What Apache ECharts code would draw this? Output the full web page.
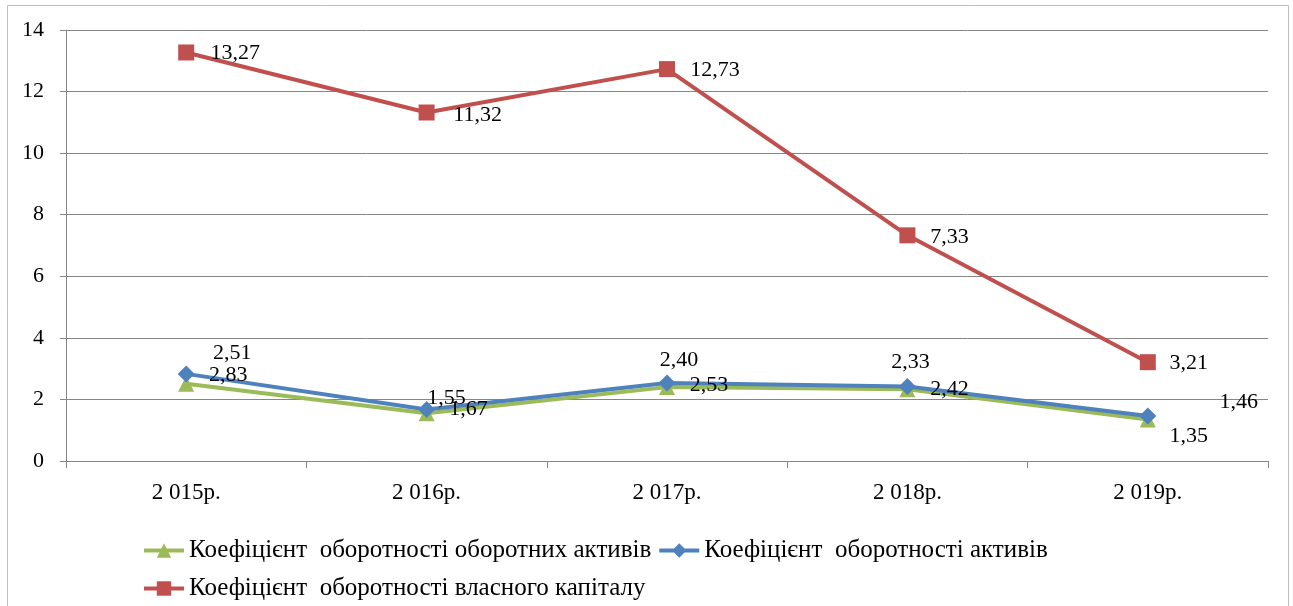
<!DOCTYPE html>
<html>
<head>
<meta charset="utf-8">
<script src="https://cdn.jsdelivr.net/npm/echarts@6/dist/echarts.min.js"></script>
<style>
html,body{margin:0;padding:0;background:#fff;}
#chart{width:1293px;height:606px;}
</style>
</head>
<body>
<div id="chart"></div>
<script>
var categories = ['2 015р.', '2 016р.', '2 017р.', '2 018р.', '2 019р.'];
var seriesNames = [
  'Коефіцієнт  оборотності оборотних активів',
  'Коефіцієнт  оборотності активів',
  'Коефіцієнт  оборотності власного капіталу'
];
var currentAssets = [2.51, 1.55, 2.40, 2.33, 1.35];
var totalAssets = [2.83, 1.67, 2.53, 2.42, 1.46];
var equity = [13.27, 11.32, 12.73, 7.33, 3.21];
var yTicks = [0, 2, 4, 6, 8, 10, 12, 14];

// label placement (offset of label centre from the point), layout only
var offGreen = [[46,-31],[20,-15],[12,-27],[3,-27],[41,17]];
var offBlue = [[42,1],[42,0],[42,2],[42,3],[91,-14]];
var offRed = [[49,1],[51,3],[48,1],[42,2],[41,1]];

var FONT = 'Liberation Serif';
function fmt(v){ return v.toFixed(2).replace('.', ','); }
function build(vals, offs){
  return vals.map(function(v,i){
    return {value: v, label: {offset: offs[i]}};
  });
}
function mkSeries(name, vals, offs, color, symbol, size){
  return {
    name: name, type: 'line', data: build(vals, offs),
    symbol: symbol, symbolSize: size,
    itemStyle: {color: color},
    lineStyle: {color: color, width: 4},
    label: {
      show: true, position: 'inside',
      formatter: function(p){ return fmt(p.value); },
      fontFamily: FONT, fontSize: 22, color: '#000'
    },
    emphasis: {disabled: true},
    animation: false
  };
}
var legendCommon = {
  itemWidth: 40, itemHeight: 18, itemGap: 6,
  lineStyle: {width: 4},
  textStyle: {fontFamily: FONT, fontSize: 25, color: '#000'}
};

var chart = echarts.init(document.getElementById('chart'));
chart.setOption({
  backgroundColor: '#fff',
  graphic: [{
    type: 'rect', shape: {x: 7.5, y: 5.5, width: 1281, height: 610},
    style: {fill: 'none', stroke: '#bfbfbf', lineWidth: 1}, silent: true
  }],
  grid: {left: 66, right: 25, top: 30, bottom: 145},
  xAxis: {
    type: 'category', data: categories, boundaryGap: true,
    axisLine: {lineStyle: {color: '#868686'}},
    axisTick: {show: true, alignWithLabel: false, length: 7, lineStyle: {color: '#868686'}},
    axisLabel: {fontFamily: FONT, fontSize: 23, color: '#000', margin: 20}
  },
  yAxis: {
    type: 'value', min: yTicks[0], max: yTicks[yTicks.length-1], interval: 2,
    axisLine: {show: true, lineStyle: {color: '#868686'}},
    axisTick: {show: true, length: 6, lineStyle: {color: '#868686'}},
    axisLabel: {fontFamily: FONT, fontSize: 22, color: '#000', margin: 22},
    splitLine: {lineStyle: {color: '#868686', width: 1}}
  },
  legend: [
    Object.assign({data: [seriesNames[0], seriesNames[1]], left: 137, top: 533}, legendCommon),
    Object.assign({data: [seriesNames[2]], left: 137, top: 571}, legendCommon)
  ],
  series: [
    mkSeries(seriesNames[0], currentAssets, offGreen, '#9BBB59', 'triangle', 16),
    mkSeries(seriesNames[1], totalAssets, offBlue, '#4F81BD', 'diamond', 17),
    mkSeries(seriesNames[2], equity, offRed, '#C0504D', 'rect', 16)
  ],
  animation: false
});
</script>
</body>
</html>
